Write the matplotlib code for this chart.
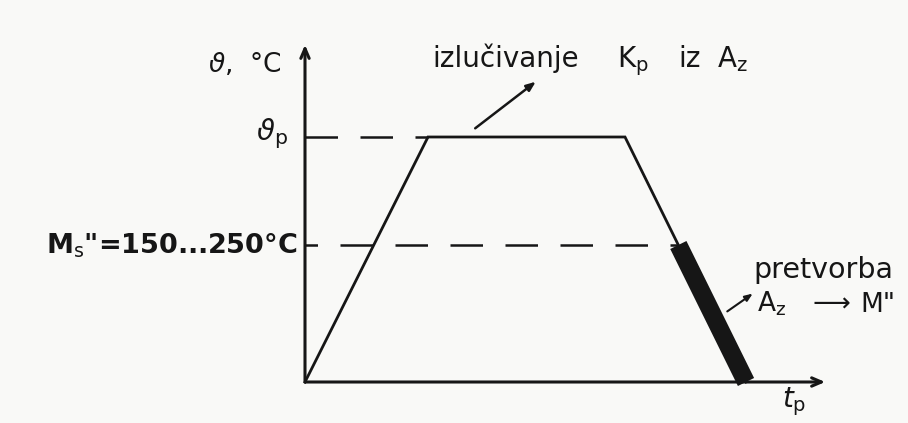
import numpy as np
import matplotlib
matplotlib.use("Agg")
import matplotlib.pyplot as plt

# Shematski tok temperature (proizvoljne jedinice)
vrijeme = [0.0, 1.23, 3.2, 4.41]
temperatura = [0.0, 2.45, 2.45, 0.0]
temp_p = 2.45      # temperatura pretvorbe
temp_ms = 1.37     # Ms'' = 150...250 °C
t_kraj = 5.23      # kraj osi vremena
temp_os = 3.4      # kraj osi temperature

# natpis iznad krivulje, rastavljen po rijecima
natpis_rijeci = ['izlučivanje', r'K$_{\rm p}$', 'iz', r'A$_{\rm z}$']
natpis_x = [1.27, 3.12, 3.73, 4.12]
pretvorba_dijelovi = [r'A$_{\rm z}$', '⟶', 'M"']
pretvorba_x = [4.52, 5.07, 5.55]

plt.rcParams['font.family'] = ['DejaVu Sans']
plt.rcParams['mathtext.fontset'] = 'dejavusans'

fig = plt.figure(figsize=(9.08, 4.23), dpi=100, facecolor='#f9f9f7')
ax = fig.add_axes([0, 0, 1, 1])
ax.set_facecolor('#f9f9f7')
ax.set_xlim(-3.05, 6.03)
ax.set_ylim(-0.41, 3.82)
ax.axis('off')

crna = '#161616'

# osi
ax.annotate('', xy=(0, temp_os), xytext=(0, -0.03),
            arrowprops=dict(arrowstyle='->,head_length=0.7,head_width=0.3', lw=2.2, color=crna))
ax.annotate('', xy=(t_kraj, 0), xytext=(-0.02, 0),
            arrowprops=dict(arrowstyle='->,head_length=0.7,head_width=0.3', lw=2.2, color=crna))

# crtkane linije
ax.plot([0, vrijeme[1]], [temp_p, temp_p], color=crna, lw=1.8, linestyle=(0, (13, 9)))
t_ms = np.interp(temp_ms, temperatura[:1:-1], vrijeme[:1:-1])
ax.plot([0, t_ms], [temp_ms, temp_ms], color=crna, lw=1.8, linestyle=(8, (13, 9)))

# tok temperature
ax.plot(vrijeme, temperatura, color=crna, lw=2.0, solid_joinstyle='miter')
# pretvorba Az -> M''
ax.plot([t_ms, vrijeme[3]], [temp_ms, 0], color=crna, lw=13, solid_capstyle='butt')

# oznake osi
ax.text(-0.23, 3.10, r'$\vartheta$,  °C', ha='right', va='baseline', fontsize=19, color=crna)
ax.text(-0.17, 2.42, r'$\vartheta_{\rm p}$', ha='right', va='baseline', fontsize=21, color=crna)
ax.text(-0.08, 1.29, "M$_{\\rm s}$\"=150...250°C", ha='right', va='baseline',
        fontsize=19.5, color=crna, fontweight='bold')
ax.text(4.77, -0.25, r'$t_{\rm p}$', ha='left', va='baseline', fontsize=20, color=crna)

# izlucivanje Kp iz Az
for rijec, x in zip(natpis_rijeci, natpis_x):
    ax.text(x, 3.15, rijec, ha='left', va='baseline', fontsize=20, color=crna)
ax.annotate('', xy=(2.33, 3.02), xytext=(1.68, 2.52),
            arrowprops=dict(arrowstyle='-|>,head_length=0.55,head_width=0.22', lw=1.8, color=crna))

# pretvorba Az -> M''
ax.text(4.48, 1.04, 'pretvorba', ha='left', va='baseline', fontsize=20.5, color=crna)
for dio, x in zip(pretvorba_dijelovi, pretvorba_x):
    ax.text(x, 0.70, dio, ha='left', va='baseline', fontsize=19, color=crna)
ax.annotate('', xy=(4.5, 0.90), xytext=(4.2, 0.69),
            arrowprops=dict(arrowstyle='-|>,head_length=0.45,head_width=0.18', lw=1.5, color=crna))

fig.savefig('out.png', dpi=100, facecolor=fig.get_facecolor())
